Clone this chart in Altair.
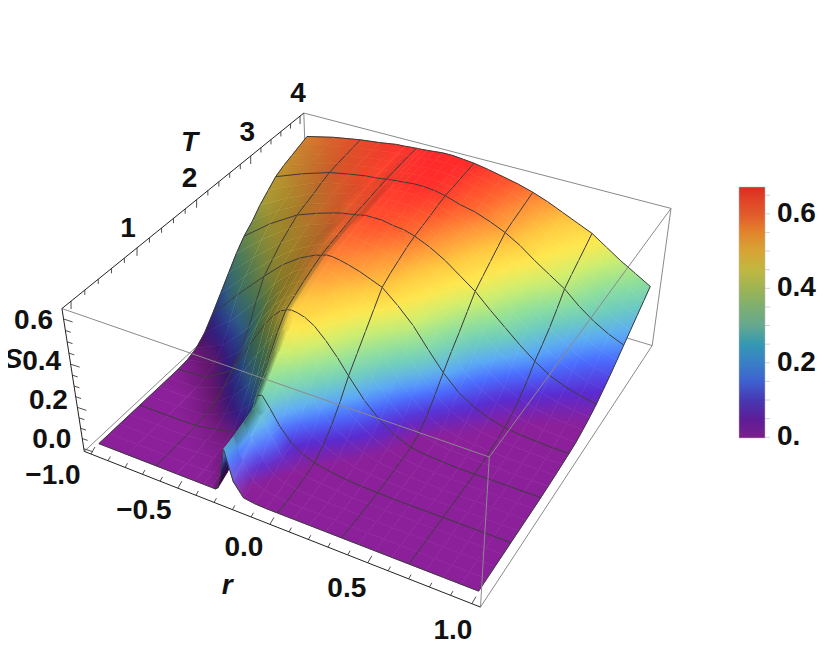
import altair as alt
import numpy as np

W, H = 814, 643
R = [-1, -.833, -.667, -.55, -.45, -.40, -.36, -.333, -.32, -.30, -.27, -.23, -.18, -.12, -.06, 0,
     .083, .167, .25, .333, .417, .5, .583, .667, .75, .833, .917, 1]
T = [0, .167, .333, .5, .667, .833, 1, 1.167, 1.333, 1.5, 1.667, 1.833, 2, 2.167, 2.333, 2.5, 2.667,
     2.833, 3, 3.167, 3.333, 3.5, 3.667, 3.833, 4]
S00 = [0,0,0,0,0,0,0,0,.01,.07,.21,.07,.01,.002,0,0, 0,0,0,0,0,0,0,0,0,0,0,0]
S01 = [0,0,0,0,.003,.006,.012,.02,.035,.10,.22,.12,.04,.015,.006,.002, .001,0,0,0,0,0,0,0,0,0,0,0]
S02 = [0,0,0,.005,.012,.02,.035,.05,.07,.14,.235,.18,.10,.04,.018,.01, .005,.002,0,0,0,0,0,0,0,0,0,0]
S03 = [0,0,0,.012,.025,.035,.055,.08,.11,.17,.25,.235,.16,.07,.035,.02, .012,.006,.002,0,0,0,0,0,0,0,0,0]
S04 = [0,0,.002,.02,.04,.06,.10,.14,.19,.26,.27,.22,.15,.09,.055,.035, .02,.01,.005,.002,0,0,0,0,0,0,0,0]
S05 = [0,0,.008,.05,.10,.14,.19,.23,.27,.32,.325,.29,.22,.15,.10,.07, .04,.02,.01,.005,.002,0,0,0,0,0,0,0]
S06 = [0,.001,.02,.09,.18,.24,.30,.33,.35,.375,.38,.36,.31,.24,.17,.12, .075,.04,.02,.01,.004,0,0,0,0,0,0,0]
S07 = [0,.003,.05,.16,.28,.34,.39,.41,.42,.43,.43,.42,.38,.32,.25,.185, .12,.07,.035,.015,.007,.003,0,0,0,0,0,0]
S08 = [0,.008,.09,.25,.38,.43,.46,.47,.475,.478,.475,.465,.44,.39,.33,.26, .17,.10,.05,.02,.01,.005,0,0,0,0,0,0]
S09 = [.004,.03,.14,.31,.42,.46,.485,.495,.50,.505,.505,.495,.475,.43,.38,.32, .23,.15,.085,.04,.02,.012,.008,.005,.004,.003,.002,.002]
S10 = [.02,.08,.21,.36,.455,.49,.51,.52,.525,.53,.53,.525,.505,.475,.43,.38, .30,.21,.14,.08,.045,.027,.017,.011,.008,.006,.005,.004]
S11 = [.055,.16,.30,.415,.49,.515,.535,.54,.545,.55,.55,.545,.53,.51,.48,.44, .37,.29,.21,.135,.08,.05,.03,.02,.013,.01,.008,.007]
S12 = [.11,.25,.38,.465,.52,.54,.555,.56,.565,.57,.57,.565,.555,.54,.52,.50, .44,.37,.28,.195,.125,.08,.05,.03,.02,.015,.01,.01]
S13 = [.17,.30,.42,.49,.535,.555,.565,.57,.575,.58,.58,.58,.57,.56,.54,.525, .47,.41,.33,.25,.17,.115,.075,.05,.033,.024,.018,.015]
S14 = [.23,.35,.46,.515,.55,.57,.58,.58,.585,.59,.59,.59,.585,.575,.56,.545, .50,.445,.38,.30,.22,.16,.11,.08,.055,.04,.032,.027]
S15 = [.29,.40,.49,.535,.565,.58,.59,.59,.595,.60,.60,.60,.60,.59,.58,.565, .525,.48,.42,.355,.28,.22,.165,.12,.085,.065,.05,.042]
S16 = [.34,.44,.52,.555,.58,.59,.595,.60,.60,.605,.61,.61,.61,.60,.595,.58, .55,.51,.46,.41,.345,.285,.225,.17,.125,.095,.075,.06]
S17 = [.375,.465,.535,.565,.59,.595,.60,.605,.605,.61,.615,.615,.615,.61,.60,.59, .565,.53,.485,.44,.38,.32,.26,.205,.16,.125,.10,.085]
S18 = [.42,.49,.55,.578,.597,.603,.608,.612,.612,.617,.622,.622,.622,.622,.612,.60, .58,.55,.51,.47,.415,.36,.30,.245,.195,.155,.125,.11]
S19 = [.455,.515,.568,.587,.605,.61,.614,.618,.618,.622,.626,.626,.63,.63,.622,.612, .59,.57,.535,.50,.45,.40,.35,.295,.24,.195,.16,.14]
S20 = [.49,.54,.582,.60,.613,.616,.62,.624,.625,.627,.63,.632,.637,.637,.632,.622, .60,.585,.56,.53,.49,.44,.395,.35,.29,.24,.20,.17]
S21 = [.51,.553,.59,.606,.618,.62,.624,.627,.628,.63,.632,.635,.639,.639,.634,.625, .606,.592,.57,.543,.505,.46,.42,.378,.32,.27,.23,.20]
S22 = [.525,.565,.596,.61,.622,.624,.628,.631,.632,.634,.636,.638,.642,.642,.637,.629, .613,.598,.578,.553,.52,.48,.445,.405,.35,.30,.26,.23]
S23 = [.54,.575,.602,.615,.626,.628,.632,.634,.635,.636,.638,.64,.645,.645,.64,.633, .62,.604,.587,.564,.535,.50,.468,.432,.382,.335,.295,.26]
S24 = [.555,.585,.607,.618,.63,.632,.635,.636,.637,.638,.64,.643,.647,.647,.642,.637, .625,.61,.595,.575,.55,.52,.49,.46,.415,.37,.33,.29]
S_TABLE = [S00,S01,S02,S03,S04,S05,S06,S07,S08,S09,S10,S11,S12,S13,S14,S15,S16,S17,S18,S19,S20,S21,S22,S23,S24]
for row in S_TABLE:
    assert len(row) == len(R)

MESH_R = [0, 2, 7, 15, 19, 23, 27]
MESH_T = [0, 4, 8, 12, 16, 20, 24]

BOX_R = (-1.04, 1.04)
BOX_T = (-0.13, 4.08)
BOX_S = (-0.013, 0.645)

# box corners seen in the picture (r side, T side, S side, page x, page y)
CORNERS = [(0,0,0,84,451),(0,0,1,62,309),(0,1,1,304,113),(1,1,1,671,208),
           (1,0,1,489,457),(1,0,0,481,607),(1,1,0,652,346)]
A, b = [], []
for i,j,k,u,v in CORNERS:
    X,Y,Zz = BOX_R[i],BOX_T[j],BOX_S[k]
    u -= 8; v -= 8
    A.append([X,Y,Zz,1,0,0,0,0,-u*X,-u*Y,-u*Zz]); b.append(u)
    A.append([0,0,0,0,X,Y,Zz,1,-v*X,-v*Y,-v*Zz]); b.append(v)
m = np.linalg.lstsq(np.array(A,float),np.array(b,float),rcond=None)[0]
def P(r,t,s):
    w = m[8]*r+m[9]*t+m[10]*s+1
    return [round(float((m[0]*r+m[1]*t+m[2]*s+m[3])/w),2), round(float((m[4]*r+m[5]*t+m[6]*s+m[7])/w),2)]
def W_(r,t,s):
    return float(m[8]*r+m[9]*t+m[10]*s+1)

FILL_DOMAIN = [0,.03,.08,.14,.19,.25,.31,.38,.44,.50,.56,.60,.64,.672]
FILL_RANGE = ["#8c209a","#8c209a","#5a2bd0","#4a6cff","#5aa8f8","#6ccbc0","#90e09a","#cfee6e","#ffe84f",
              "#ffc840","#ff8f38","#ff5a2e","#ff2c2c","#ff2020"]
LEGEND_RANGE = ["#7a1f8a","#4a1f9f","#3f5fd0","#4a8ac0","#66a890","#90b060","#c0b840","#e09a35","#e25a2b","#dd2a22"]
RGB = np.array([[int(c[k:k+2],16) for k in (1,3,5)] for c in FILL_RANGE],float)
def ramp(s):
    return "#%02x%02x%02x" % tuple(int(round(float(np.interp(s,FILL_DOMAIN,RGB[:,k])))) for k in range(3))
def shade_col(q):
    return f"rgba(0,0,0,{q:.3f})" if q >= 0 else f"rgba(255,255,255,{-q:.3f})"

def paint(poly, vals, colorf):
    xy = np.array(poly,float); vals = np.array(vals,float)
    lo,hi = vals.min(),vals.max()
    if hi-lo < 1e-4: return colorf(float(vals.mean()))
    x0,y0 = xy.min(axis=0); wd,ht = xy.max(axis=0)-xy.min(axis=0)
    if wd < .01 or ht < .01: return colorf(float(vals.mean()))
    u,v = (xy[:,0]-x0)/wd,(xy[:,1]-y0)/ht
    a_,b_,c_ = np.linalg.lstsq(np.c_[u,v,np.ones(4)],vals,rcond=None)[0]
    n2 = a_*a_+b_*b_
    if n2 < 1e-10: return colorf(float(vals.mean()))
    sc = a_*.5+b_*.5+c_
    p1 = (.5+(lo-sc)*a_/n2,.5+(lo-sc)*b_/n2); p2 = (.5+(hi-sc)*a_/n2,.5+(hi-sc)*b_/n2)
    return {"gradient":"linear","x1":round(float(p1[0]),3),"y1":round(float(p1[1]),3),"x2":round(float(p2[0]),3),"y2":round(float(p2[1]),3),
            "stops":[{"offset":o/4,"color":colorf(float(lo+(hi-lo)*o/4))} for o in range(5)]}

nr, nt = len(R), len(T)
# shade at table nodes, from the slope of the table along r
SH = np.zeros((nt,nr))
for i in range(nt):
    for j in range(nr):
        j0,j1 = max(j-1,0),min(j+1,nr-1)
        gx = 1.21*(S_TABLE[i][j1]-S_TABLE[i][j0])/(R[j1]-R[j0])
        if gx > .08: SH[i,j] = .72*(gx-.08)/(gx-.08+.45)
        elif gx < -1: SH[i,j] = -min(.3,.1*(-gx-1))

def feat(geomtype, coords, f, st, sw):
    geom = {"type":"Polygon","coordinates":[coords+[coords[0]]]} if geomtype=="p" else {"type":"LineString","coordinates":coords}
    return {"type":"Feature","geometry":geom,"properties":{"f":f,"st":st,"sw":sw}}

items = []
for i in range(nt-1):
    for j in range(nr-1):
        idx = [(i,j),(i,j+1),(i+1,j+1),(i+1,j)]
        poly = [P(R[b_],T[a_],S_TABLE[a_][b_]) for a_,b_ in idx]
        key = sum(W_(R[b_],T[a_],S_TABLE[a_][b_]) for a_,b_ in idx)/4
        g = paint(poly,[S_TABLE[a_][b_] for a_,b_ in idx],ramp)
        items.append((-key,0,feat("p",poly,g,g,.6)))
        qs = [SH[a_,b_] for a_,b_ in idx]
        if max(abs(q) for q in qs) > .004:
            g2 = paint(poly,qs,shade_col)
            items.append((-key,1,feat("p",poly,g2,g2,.35)))
# mesh
def cellkey(i,j):
    if i<0 or j<0 or i>=nt-1 or j>=nr-1: return None
    return sum(W_(R[b_],T[a_],S_TABLE[a_][b_]) for a_,b_ in [(i,j),(i,j+1),(i+1,j),(i+1,j+1)])/4
MESH_COLOR = "#3a3a3a"
for i in MESH_T:
    for j in range(nr-1):
        ks = [k for k in (cellkey(i,j),cellkey(i-1,j)) if k is not None]
        items.append((-min(ks),2,feat("l",[P(R[j],T[i],S_TABLE[i][j]),P(R[j+1],T[i],S_TABLE[i][j+1])],"transparent",MESH_COLOR,1)))
for j in MESH_R:
    for i in range(nt-1):
        ks = [k for k in (cellkey(i,j),cellkey(i,j-1)) if k is not None]
        items.append((-min(ks),2,feat("l",[P(R[j],T[i],S_TABLE[i][j]),P(R[j],T[i+1],S_TABLE[i+1][j])],"transparent",MESH_COLOR,1)))
items.sort(key=lambda x:(x[0],x[1]))
surface = [x[2] for x in items]

def line(a,b,c,w=1):
    return {"type":"Feature","geometry":{"type":"LineString","coordinates":[a,b]},"properties":{"c":c,"w":w}}
rl,rh=BOX_R; tl,th=BOX_T; sl,sh=BOX_S
GRAY="#8a8a8a"; BL="#222222"
back=[line(P(rl,th,sh),P(rh,th,sh),GRAY),line(P(rl,th,sh),P(rl,th,sl),GRAY),line(P(rh,tl,sl),P(rh,th,sl),GRAY),
      line(P(rh,th,sl),P(rh,th,sh),GRAY),line(P(rl,tl,sl),P(rl,th,sl),GRAY),line(P(rl,th,sl),P(rh,th,sl),GRAY)]
front=[line(P(rl,tl,sh),P(rh,tl,sh),GRAY),line(P(rh,tl,sh),P(rh,th,sh),GRAY),line(P(rh,tl,sl),P(rh,tl,sh),GRAY),
       line(P(rl,tl,sl),P(rh,tl,sl),BL),line(P(rl,tl,sl),P(rl,tl,sh),BL),line(P(rl,tl,sh),P(rl,th,sh),BL)]

R_TICK_LABELS = [(-1.0,"\u22121.0",-38,22),(-.5,"\u22120.5",-34,23),(0,"0.0",-26,24),(.5,"0.5",-21,26),(1.0,"1.0",-19,27)]
T_TICK_LABELS = [(1,"1",-9,-19),(2,"2",-7,-21),(3,"3",-3.5,-23),(4,"4",-2,-22)]
S_TICK_LABELS = [(0,"0.0",-32,-9),(.2,"0.2",-29,-6),(.4,"0.4",-29,-2),(.6,"0.6",-30,2)]
R_MINOR = [round(-1+.1*i,1) for i in range(21)]
T_MINOR = [round(.2*i,1) for i in range(21)]
S_MINOR = [round(.05*i,2) for i in range(13)]
def add(p,dx,dy): return [round(p[0]+dx,2),round(p[1]+dy,2)]
for v in R_MINOR:
    p=P(v,tl,sl); f=1 if abs(v*2-round(v*2))<1e-6 else .6
    front.append(line(p,add(p,4*f,-7*f),BL,.8))
for v in T_MINOR:
    p=P(rl,v,sh); f=1 if abs(v-round(v))<1e-6 else .6
    front.append(line(p,add(p,0,8*f),BL,.8))
for v in S_MINOR:
    p=P(rl,tl,v); f=1 if abs(v*5-round(v*5))<1e-6 else .6
    front.append(line(p,add(p,9*f,3*f),BL,.8))

LEG_DOMAIN=[-.002,.672]
LEG_X,LEG_Y,LEG_LEN,LEG_THICK=731,179,251,26
LEG_TICKS=[round(.05*i,2) for i in range(14)]
for v in LEG_TICKS:
    y=LEG_Y+LEG_LEN*(LEG_DOMAIN[1]-v)/(LEG_DOMAIN[1]-LEG_DOMAIN[0])
    front.append(line([LEG_X+LEG_THICK,round(y,2)],[LEG_X+LEG_THICK+5,round(y,2)],"#c4c4c4",.8))

labels=[]
for v,t,dx,dy in R_TICK_LABELS:
    q=add(P(v,tl,sl),dx,dy); labels.append({"lon":q[0],"lat":q[1],"t":t})
for v,t,dx,dy in T_TICK_LABELS:
    q=add(P(rl,v,sh),dx,dy); labels.append({"lon":q[0],"lat":q[1],"t":t})
for v,t,dx,dy in S_TICK_LABELS:
    q=add(P(rl,tl,v),dx,dy); labels.append({"lon":q[0],"lat":q[1],"t":t})
AXIS_TITLES=[("r",P(-.25,tl,sl),4,80),("T",P(rl,2,sh),-7,-57),("S",P(rl,tl,.3),-61,-26)]
titles=[]
for t,p,dx,dy in AXIS_TITLES:
    q=add(p,dx,dy); titles.append({"lon":q[0],"lat":q[1],"t":t})

bound = [{"type":"Feature","geometry":{"type":"Polygon","coordinates":[[[0,0],[W,0],[W,H],[0,H],[0,0]]]},"properties":{"c":"transparent","w":0}}]

base_lines = alt.Chart(alt.Data(values=bound+back)).mark_geoshape(filled=False).encode(
    stroke=alt.Stroke("properties.c:N",scale=None),strokeWidth=alt.StrokeWidth("properties.w:Q",scale=None)).project(type="identity")
surf = alt.Chart(alt.Data(values=surface)).mark_geoshape().encode(
    fill=alt.Fill("properties.f:N",scale=None),
    stroke=alt.Stroke("properties.st:N",scale=None),
    strokeWidth=alt.StrokeWidth("properties.sw:Q",scale=None)).project(type="identity")
top_lines = alt.Chart(alt.Data(values=front)).mark_geoshape(filled=False).encode(
    stroke=alt.Stroke("properties.c:N",scale=None),strokeWidth=alt.StrokeWidth("properties.w:Q",scale=None)).project(type="identity")
text = alt.Chart(alt.Data(values=labels)).mark_text(font="Liberation Sans",fontWeight="bold",fontSize=28,color="#111111").encode(
    longitude="lon:Q",latitude="lat:Q",text="t:N").project(type="identity")
title_text = alt.Chart(alt.Data(values=titles)).mark_text(font="Liberation Sans",fontWeight="bold",fontStyle="italic",fontSize=28,color="#111111").encode(
    longitude="lon:Q",latitude="lat:Q",text="t:N").project(type="identity")
LEGEND_VALUES=[0,.2,.4,.6]
leg = alt.Chart(alt.Data(values=[{"v":v,"lon":W/2,"lat":H/2} for v in LEGEND_VALUES])).mark_point(size=0,strokeWidth=0,opacity=1).encode(
    longitude="lon:Q",latitude="lat:Q",
    color=alt.Color("v:Q",scale=alt.Scale(domain=LEG_DOMAIN,range=LEGEND_RANGE),
        legend=alt.Legend(orient="none",legendX=LEG_X,legendY=LEG_Y,title=None,gradientLength=LEG_LEN,gradientThickness=LEG_THICK,
            values=LEGEND_VALUES,labelFont="Liberation Sans",labelFontWeight="bold",labelFontSize=28,labelColor="#111111",
            labelOffset=12,labelExpr="datum.value==0?'0.':format(datum.value,'.1f')",gradientStrokeColor="#bbbbbb",gradientStrokeWidth=.5))).project(type="identity")

chart = alt.layer(base_lines,surf,top_lines,text,title_text,leg).resolve_scale(color="independent").properties(
    width=W,height=H,padding=0,autosize="none").configure_view(stroke=None)
chart.save("out.html", embed_options={"renderer": "svg", "actions": False})
